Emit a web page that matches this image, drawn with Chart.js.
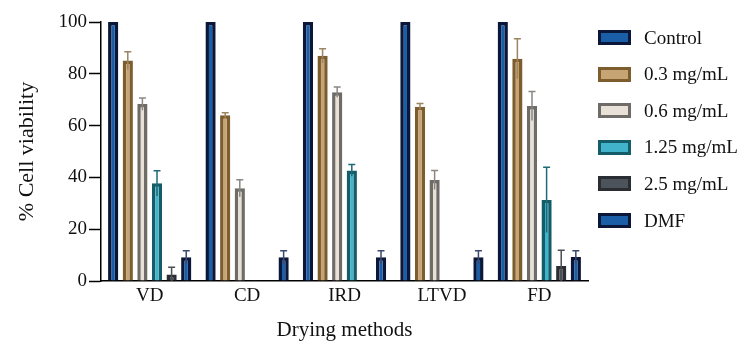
<!DOCTYPE html>
<html>
<head>
<meta charset="utf-8">
<script src="https://cdn.jsdelivr.net/npm/chart.js@4/dist/chart.umd.min.js"></script>
<style>
  html, body { margin: 0; padding: 0; background: #fff; }
  #wrap { position: relative; width: 740px; height: 343px; }
  #legend { position: absolute; left: 598px; top: 30px; font-family: "Liberation Serif", "Times New Roman", serif; font-size: 19px; color: #111; }
  .item { position: absolute; left: 0; height: 15px; white-space: nowrap; }
  .sw { position: absolute; left: 0; top: 0; width: 33px; height: 15px; box-sizing: border-box; border: 3px solid #000; }
  .lbl { position: absolute; left: 46px; top: 50%; transform: translateY(-52%); line-height: 1; }
</style>
</head>
<body>
<div id="wrap">
  <canvas id="c" width="740" height="343"></canvas>
  <div id="legend"></div>
</div>
<script>
const categories = ['VD', 'CD', 'IRD', 'LTVD', 'FD'];
const seriesNames = ['Control', '0.3 mg/mL', '0.6 mg/mL', '1.25 mg/mL', '2.5 mg/mL', 'DMF'];

const control = [100, 100, 100, 100, 100];
const c03 = [85.1, 64.0, 87.0, 67.3, 85.8];
const c06 = [68.3, 35.8, 72.9, 39.0, 67.6];
const c125 = [37.7, 0.3, 42.7, 0, 31.3];
const c25 = [2.5, 0, 0, 0, 5.8];
const dmf = [9.2, 9.2, 9.2, 9.2, 9.3];

const errControl = [0, 0, 0, 0, 0];
const err03 = [3.4, 1.0, 2.7, 1.2, 7.7];
const err06 = [2.4, 3.3, 2.0, 3.7, 5.6];
const err125 = [4.9, 0, 2.3, 0, 12.6];
const err25 = [2.8, 0, 0, 0, 6.1];
const errDmf = [2.5, 2.5, 2.5, 2.5, 2.4];

const yTicks = [0, 20, 40, 60, 80, 100];

const borderColors = ['#0b1738', '#7d5c2e', '#6f6b67', '#145c68', '#2a2e33', '#0b1738'];
const fillColors = ['#1b5ea8', '#c6a474', '#e7e1d7', '#41b4cc', '#4d535b', '#1b5ea8'];
const whiskerColors = ['#3a4a70', '#9c8560', '#8a8783', '#1f6a76', '#4a4e54', '#3a4a70'];

const values = [control, c03, c06, c125, c25, dmf];
const errors = [errControl, err03, err06, err125, err25, errDmf];

const FONT = '"Liberation Serif", "Times New Roman", serif';

const errorBarPlugin = {
  id: 'errorBars',
  afterDatasetsDraw(chart) {
    const ctx = chart.ctx;
    const y = chart.scales.y;
    chart.data.datasets.forEach((ds, di) => {
      const meta = chart.getDatasetMeta(di);
      meta.data.forEach((bar, i) => {
        const v = ds.data[i];
        const e = errors[di][i];
        if (!e) return;
        const yTop = y.getPixelForValue(v + e);
        const yLow = y.getPixelForValue(Math.max(0, v - e));
        ctx.save();
        ctx.strokeStyle = whiskerColors[di];
        ctx.lineWidth = 1.5;
        ctx.beginPath();
        ctx.moveTo(bar.x, yLow);
        ctx.lineTo(bar.x, yTop);
        ctx.moveTo(bar.x - 3.5, yTop);
        ctx.lineTo(bar.x + 3.5, yTop);
        ctx.stroke();
        ctx.restore();
      });
    });
  }
};

const datasets = seriesNames.map((name, i) => ({
  label: name,
  data: values[i],
  backgroundColor: fillColors[i],
  borderColor: borderColors[i],
  borderWidth: 3.5,
  borderSkipped: 'start',
  categoryPercentage: 0.9,
  barPercentage: 0.7
}));

new Chart(document.getElementById('c'), {
  type: 'bar',
  data: { labels: categories, datasets },
  plugins: [errorBarPlugin],
  options: {
    responsive: false,
    animation: false,
    devicePixelRatio: 1,
    layout: { padding: { left: 0, right: 152, top: 22, bottom: 0 } },
    plugins: { legend: { display: false }, tooltip: { enabled: false } },
    scales: {
      x: {
        grid: { display: false, drawTicks: false },
        border: { display: true, color: '#000', width: 1.5 },
        ticks: { color: '#111', font: { family: FONT, size: 19 }, padding: 4 },
        title: { display: true, text: 'Drying methods', color: '#111', font: { family: FONT, size: 21 }, padding: { top: 0, bottom: 0 } },
        afterFit(s) { s.height = 62; }
      },
      y: {
        min: 0, max: 100,
        afterBuildTicks(s) { s.ticks = yTicks.map(v => ({ value: v })); },
        grid: { drawOnChartArea: false, drawTicks: true, tickLength: 12, color: '#000', tickWidth: 1.5 },
        border: { display: true, color: '#000', width: 1.5 },
        ticks: { color: '#111', font: { family: FONT, size: 19 }, padding: 2 },
        title: { display: true, text: '% Cell viability', color: '#111', font: { family: FONT, size: 22 }, padding: { top: 14, bottom: 0 } },
        afterFit(s) { s.width = 101; }
      }
    }
  }
});

const legend = document.getElementById('legend');
seriesNames.forEach((name, i) => {
  const item = document.createElement('div');
  item.className = 'item';
  item.style.top = (i * 36.6) + 'px';
  const sw = document.createElement('div');
  sw.className = 'sw';
  sw.style.background = fillColors[i];
  sw.style.borderColor = borderColors[i];
  const lbl = document.createElement('span');
  lbl.className = 'lbl';
  lbl.textContent = name;
  item.appendChild(sw);
  item.appendChild(lbl);
  legend.appendChild(item);
});
</script>
</body>
</html>
